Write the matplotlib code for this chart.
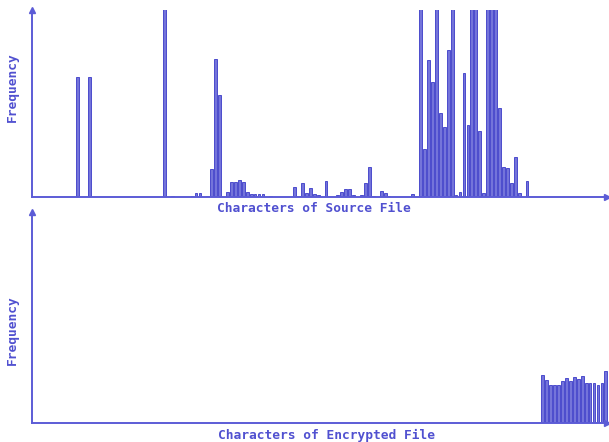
import matplotlib
matplotlib.use('Agg')
import matplotlib.pyplot as plt

# character codes (ASCII) and their frequency, % of the plot height
# (bars taller than 100 run off the top of the axis)
src_codes = [10, 13, 32, 34, 39, 40, 41, 43, 44, 45, 46,
             48, 49, 50, 51, 52, 53, 54, 55, 56, 57, 59,
             65, 66, 67, 68, 69, 70, 71, 73, 76, 77, 78, 79, 80,
             82, 83, 84, 85, 87, 88, 89, 95,
             97, 98, 99, 100, 101, 102, 103, 104, 105, 106, 107, 108, 109,
             110, 111, 112, 113, 114, 115, 116, 117, 118, 119, 120, 121, 122,
             124]
src_freq = [64.4, 64.4, 180, 1.0, 1.0, 2.2, 2.2, 1.0, 15.0, 74.2, 54.7,
            2.7, 8.4, 8.3, 9.1, 8.4, 3.1, 2.1, 2.1, 2.1, 2.1, 1.0,
            5.4, 1.0, 7.6, 2.2, 5.3, 1.9, 1.6, 8.8, 1.3, 3.1, 4.4, 4.8, 1.3,
            1.3, 7.6, 16.4, 0.8, 3.5, 2.6, 0.8, 2.1,
            112, 25.7, 73.7, 61.8, 160, 45.2, 37.8, 78.7, 118, 1.3, 3.0, 66.6, 38.7,
            125, 130, 35.6, 2.2, 115, 120, 140, 47.6, 16.4, 15.6, 7.9, 21.8, 2.6,
            9.0]

enc_codes = [128, 129, 130, 131, 132, 133, 134, 135, 136,
             137, 138, 139, 140, 141, 142, 143, 144]
enc_freq = [22.9, 20.7, 18.2, 18.2, 18.2, 19.9, 21.3, 19.9, 21.8,
            20.9, 22.2, 19.0, 19.0, 19.0, 18.0, 19.0, 24.6]

src_label = 'Characters of Source File'
enc_label = 'Characters of Encrypted File'
y_label = 'Frequency'

# ---- styling ----
axis_col = '#5c5cd6'
bar_face = '#7474da'
bar_edge = '#3a3ac8'
text_col = '#5050d0'
W, H = 609, 442

fig = plt.figure(figsize=(W / 100, H / 100), dpi=100)


def make_axes(top_px, base_px):
    ax = fig.add_axes([32 / W, 1 - base_px / H, (W - 32) / W, (base_px - top_px) / H])
    ax.set_xlim(-1.6, 144.8)
    ax.set_ylim(0, 100)
    for s in ['top', 'right']:
        ax.spines[s].set_visible(False)
    for s in ['left', 'bottom']:
        ax.spines[s].set_color(axis_col)
        ax.spines[s].set_linewidth(1.4)
    ax.set_xticks([])
    ax.set_yticks([])
    ax.patch.set_alpha(0)
    # arrow heads on the axis ends
    ax.plot([0], [1.0], marker='^', ms=4, color=axis_col, transform=ax.transAxes, clip_on=False)
    ax.plot([0.997], [0], marker='>', ms=4, color=axis_col, transform=ax.transAxes, clip_on=False)
    return ax


ax1 = make_axes(10.5, 197.5)
ax1.bar(src_codes, src_freq, width=0.7, color=bar_face, edgecolor=bar_edge, linewidth=0.6)

ax2 = make_axes(212, 423.3)
ax2.bar(enc_codes, enc_freq, width=0.7, color=bar_face, edgecolor=bar_edge, linewidth=0.6)

font = dict(family='DejaVu Sans Mono', fontweight='bold', fontsize=9.3, color=text_col)
fig.text(314 / W, 1 - 208.5 / H, src_label, ha='center', va='center', **font)
fig.text(327 / W, 1 - 435.5 / H, enc_label, ha='center', va='center', **font)
fig.text(12.5 / W, 1 - 87 / H, y_label, rotation=90, ha='center', va='center', **font)
fig.text(12.5 / W, 1 - 330 / H, y_label, rotation=90, ha='center', va='center', **font)

plt.savefig('out.png', dpi=100)
